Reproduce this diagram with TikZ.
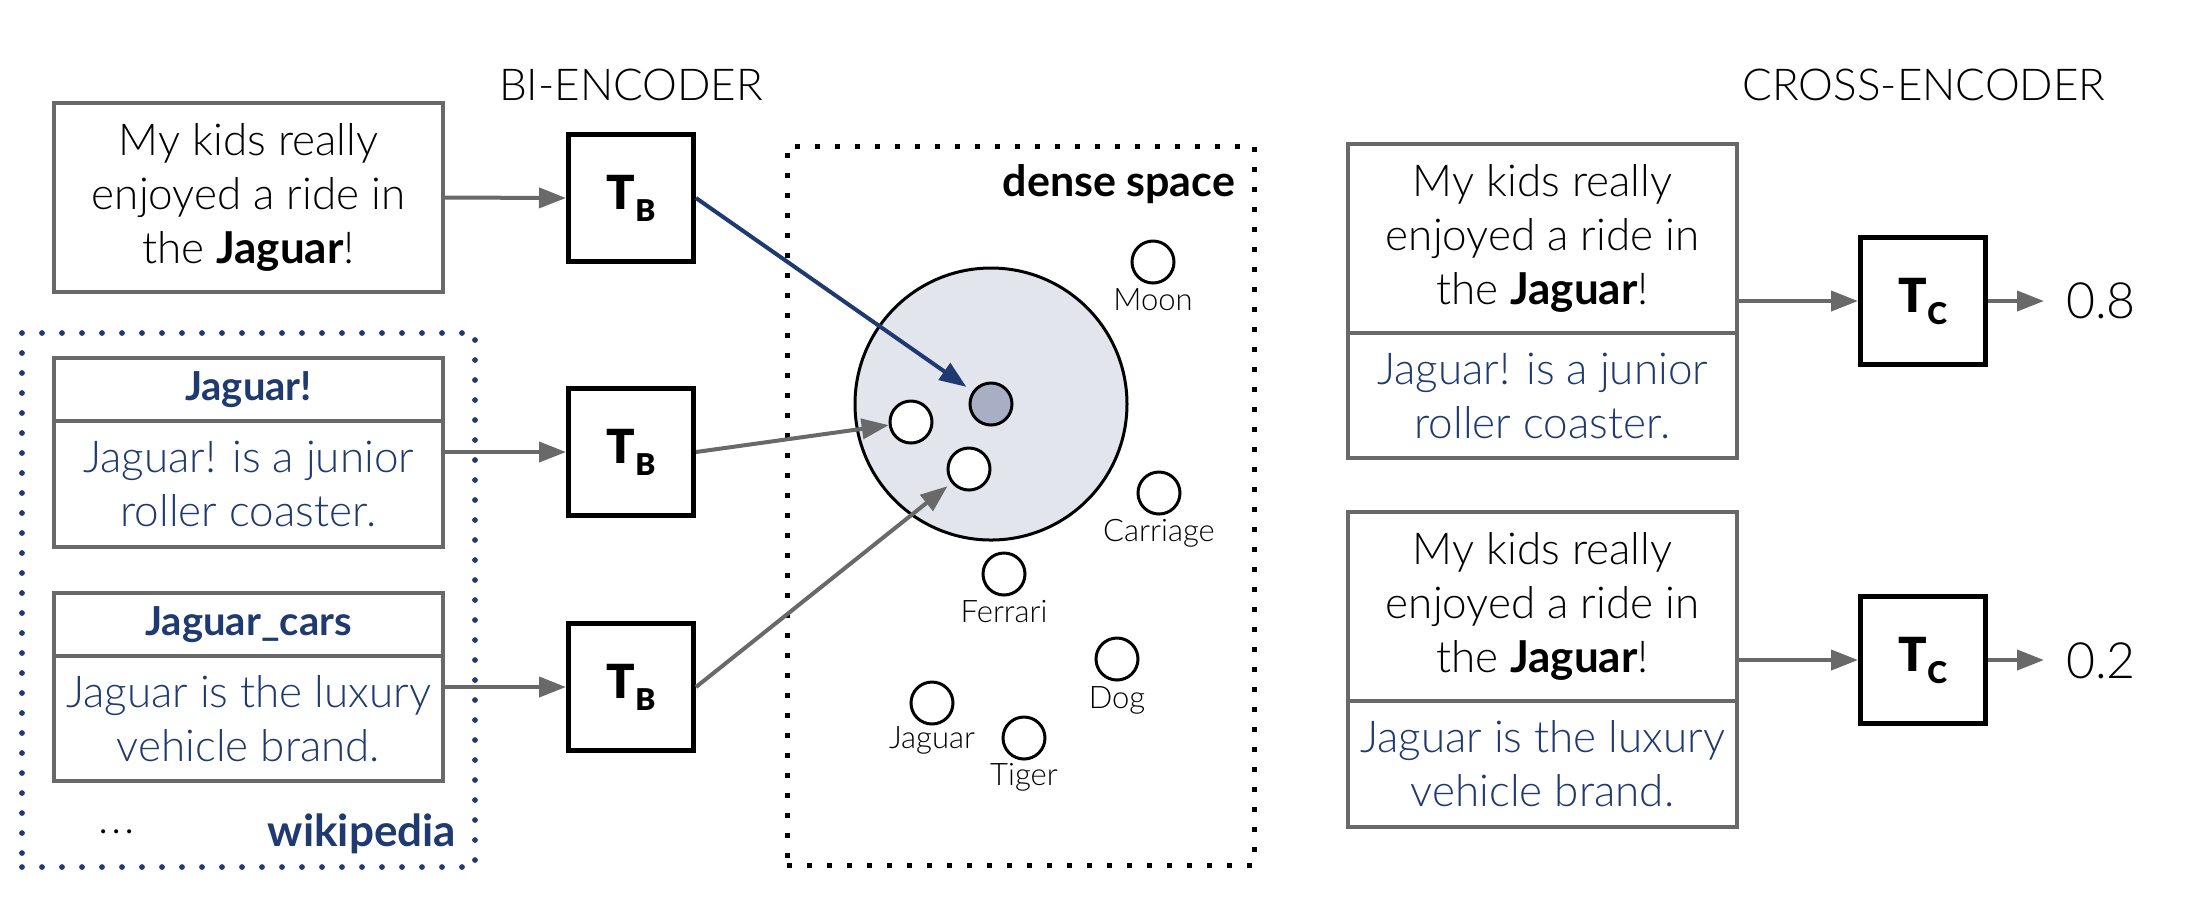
\documentclass[tikz,border=0pt]{standalone}
\usepackage{fontspec}
\usetikzlibrary{arrows.meta}
\IfFontExistsTF{Lato Light}{\setmainfont{Lato Light}[BoldFont={Lato Bold}]}{\setmainfont{Lato}}
\IfFontExistsTF{Lato Black}{\newfontfamily\heavyfont{Lato Black}}{\newcommand\heavyfont{\bfseries}}
\definecolor{myblue}{RGB}{31,58,112}
\definecolor{boxgray}{RGB}{105,105,105}
\definecolor{arrgray}{RGB}{105,105,105}
\definecolor{circfill}{RGB}{226,229,236}
\definecolor{darkdot}{RGB}{168,175,197}
\newcommand\fsbody{\fontsize{8.8}{10.8}\selectfont}
\newcommand\fstitle{\fontsize{8}{9.6}\selectfont\bfseries}
\newcommand\fshead{\fontsize{8.8}{10}\selectfont}
\newcommand\fsdense{\fontsize{8.6}{10}\selectfont\bfseries}
\newcommand\fswiki{\fontsize{8.8}{10}\selectfont\bfseries}
\newcommand\fslab{\fontsize{6.2}{7}\selectfont}
\newcommand\fsout{\fontsize{10}{12}\selectfont}
\newcommand\encsym[1]{{\heavyfont\fontsize{9.4}{10}\selectfont T\raisebox{-2.4pt}{\fontsize{6}{6}\selectfont #1}}}
\begin{document}
\begin{tikzpicture}[x=0.2pt,y=-0.2pt,
  gbox/.style={draw=boxgray, line width=0.8pt, inner sep=0pt, align=center, minimum width=77.8pt, font=\fsbody},
  enc/.style={draw=black, line width=1pt, minimum width=25pt, minimum height=25.4pt, inner sep=0pt},
  arr/.style={draw=arrgray, line width=0.8pt, -{Triangle[length=5.4pt,width=4pt]}},
  barr/.style={draw=myblue, line width=0.8pt, -{Triangle[length=5.4pt,width=4pt]}},
  pt/.style={circle, draw=black, line width=0.6pt, fill=white, minimum size=8.4pt, inner sep=0pt},
  lab/.style={font=\fslab, anchor=base, inner sep=0pt},
  wikidots/.style={draw=myblue, line width=1.15pt, line cap=round, dash pattern=on 0pt off 4pt},
  densedots/.style={draw=black, line width=1pt, dash pattern=on 1pt off 3pt},
  head/.style={font=\fshead, anchor=base, inner sep=0pt}
]
\fill[white] (0,0) rectangle (2204,912);
\useasboundingbox (0,0) rectangle (2204,912);

% headers
\node[head] (bihead) at (631,100) {BI-ENCODER};
\node[head] (crosshead) at (1924,100) {CROSS-ENCODER};

% query box
\node[gbox, minimum height=37.8pt] (q1) at (248.5,197.5) {My kids really\\enjoyed a ride in\\the \textbf{Jaguar}!};

% wikipedia container
\node[wikidots, minimum width=90.6pt, minimum height=106.8pt, inner sep=0pt] (wiki) at (248.5,600) {};
\node[gbox, minimum height=12.6pt, font=\fstitle, text=myblue] (c1t) at (248.5,389.5) {Jaguar!};
\node[gbox, minimum height=25.2pt, text=myblue] (c1b) at (248.5,484) {Jaguar! is a junior\\roller coaster.};
\node[gbox, minimum height=12.6pt, font=\fstitle, text=myblue] (c2t) at (248.5,624.5) {Jaguar\_cars};
\node[gbox, minimum height=25pt, text=myblue] (c2b) at (248.5,718.5) {Jaguar is the luxury\\vehicle brand.};
\node[font=\fsbody, anchor=base west, inner sep=0pt] (dots) at (97,833) {.\kern0.6pt.\kern0.6pt.};
\node[font=\fswiki, text=myblue, anchor=base east, inner sep=0pt] (wikilab) at (457,846) {wikipedia};

% bi-encoders
\node[enc] (tb1) at (631,198) {\encsym{B}};
\node[enc] (tb2) at (631,452) {\encsym{B}};
\node[enc] (tb3) at (631,687) {\encsym{B}};

% dense space
\node[densedots, minimum width=93.4pt, minimum height=143.8pt, inner sep=0pt] (dense) at (1020.5,505.5) {};
\node[font=\fsdense, anchor=base east, inner sep=0pt] (dslab) at (1236,196) {dense space};
\node[circle, draw=black, line width=0.6pt, fill=circfill, minimum size=54.4pt, inner sep=0pt] (cluster) at (991,404) {};
\node[pt, fill=darkdot] (qd) at (991,404) {};
\node[pt] (e1) at (911,422) {};
\node[pt] (e2) at (969,469) {};
\node[pt] (moon) at (1153,262) {};
\node[pt] (carriage) at (1159,493) {};
\node[pt] (ferrari) at (1004,574) {};
\node[pt] (dog) at (1117,659) {};
\node[pt] (jaguar) at (932,703) {};
\node[pt] (tiger) at (1024,738) {};
\node[lab] (lmoon) at (1153,310) {Moon};
\node[lab] (lcarriage) at (1159,541) {Carriage};
\node[lab] (lferrari) at (1004,622) {Ferrari};
\node[lab] (ldog) at (1117,708) {Dog};
\node[lab] (ljaguar) at (932,748) {Jaguar};
\node[lab] (ltiger) at (1024,785) {Tiger};

% bi-encoder arrows
\draw[arr] (q1.east) -- (tb1.west);
\draw[arr] (tb2 -| c1b.east) -- (tb2.west);
\draw[arr] (tb3 -| c2b.east) -- (tb3.west);
\draw[barr, shorten >=1.5pt] (tb1.east) -- (qd);
\draw[arr] (tb2.east) -- (e1);
\draw[arr, shorten >=1pt] (tb3.east) -- (e2);

% cross-encoder
\node[gbox, minimum height=37.8pt] (ct1) at (1542.5,238.5) {My kids really\\enjoyed a ride in\\the \textbf{Jaguar}!};
\node[gbox, minimum height=25pt, text=myblue] (cb1) at (1542.5,395.5) {Jaguar! is a junior\\roller coaster.};
\node[gbox, minimum height=37.8pt] (ct2) at (1542.5,606.5) {My kids really\\enjoyed a ride in\\the \textbf{Jaguar}!};
\node[gbox, minimum height=25.2pt, text=myblue] (cb2) at (1542.5,764) {Jaguar is the luxury\\vehicle brand.};
\node[enc] (tc1) at (1923,301) {\encsym{C}};
\node[enc] (tc2) at (1923,660) {\encsym{C}};
\node[font=\fsout, anchor=base west, inner sep=0pt] (o1) at (2065,318) {0.8};
\node[font=\fsout, anchor=base west, inner sep=0pt] (o2) at (2065,678) {0.2};
\draw[arr] (tc1 -| ct1.east) -- (tc1.west);
\draw[arr] (tc2 -| ct2.east) -- (tc2.west);
\draw[arr, shorten >=4.2pt] (tc1.east) -- (tc1.east -| o1.west);
\draw[arr, shorten >=4.2pt] (tc2.east) -- (tc2.east -| o2.west);
\end{tikzpicture}
\end{document}
